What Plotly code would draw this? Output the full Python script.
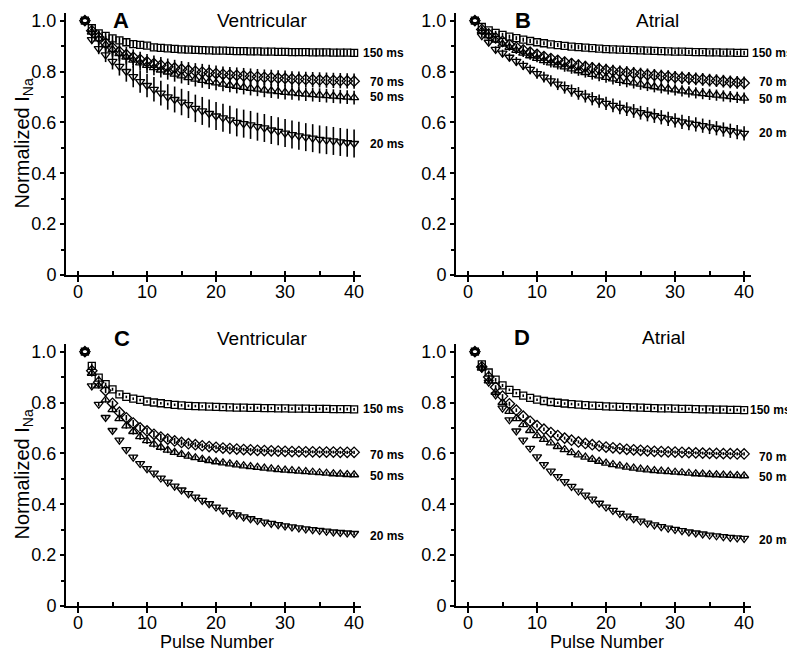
import plotly.graph_objects as go

pulse = list(range(1, 41))
series_names = ["150 ms", "70 ms", "50 ms", "20 ms"]
panel_letters = ["A", "B", "C", "D"]
panel_titles = ["Ventricular", "Atrial", "Ventricular", "Atrial"]
x_tick_vals = [0, 10, 20, 30, 40]
y_tick_vals = [0, 0.2, 0.4, 0.6, 0.8, 1.0]
y_tick_text = ["0", "0.2", "0.4", "0.6", "0.8", "1.0"]

# ---- Panel A (Ventricular, top) ----
A_150 = [1.000, 0.970, 0.950, 0.940, 0.930, 0.922, 0.915, 0.908, 0.905, 0.902,
         0.895, 0.893, 0.891, 0.889, 0.887, 0.886, 0.885, 0.884, 0.883, 0.882,
         0.882, 0.881, 0.880, 0.880, 0.879, 0.879, 0.878, 0.878, 0.877, 0.877,
         0.876, 0.876, 0.876, 0.875, 0.875, 0.875, 0.874, 0.874, 0.874, 0.873]
A_70 = [1.000, 0.960, 0.935, 0.912, 0.893, 0.878, 0.866, 0.856, 0.847, 0.838,
        0.831, 0.825, 0.819, 0.814, 0.809, 0.805, 0.801, 0.798, 0.795, 0.792,
        0.789, 0.787, 0.785, 0.783, 0.781, 0.779, 0.777, 0.776, 0.774, 0.773,
        0.771, 0.770, 0.769, 0.768, 0.767, 0.766, 0.765, 0.764, 0.763, 0.762]
A_50 = [1.000, 0.955, 0.928, 0.905, 0.886, 0.870, 0.857, 0.845, 0.834, 0.824,
        0.815, 0.806, 0.798, 0.790, 0.783, 0.776, 0.770, 0.765, 0.760, 0.755,
        0.750, 0.746, 0.742, 0.738, 0.734, 0.731, 0.727, 0.724, 0.721, 0.718,
        0.716, 0.713, 0.711, 0.709, 0.707, 0.705, 0.703, 0.701, 0.699, 0.697]
A_20 = [1.000, 0.925, 0.890, 0.865, 0.840, 0.820, 0.800, 0.780, 0.760, 0.745,
        0.730, 0.715, 0.700, 0.690, 0.680, 0.670, 0.655, 0.645, 0.635, 0.625,
        0.618, 0.610, 0.600, 0.595, 0.590, 0.583, 0.578, 0.570, 0.565, 0.558,
        0.552, 0.547, 0.542, 0.538, 0.533, 0.530, 0.527, 0.523, 0.520, 0.517]
A_150_err = [0.000, 0.010, 0.012, 0.012, 0.013, 0.013, 0.013, 0.012, 0.012, 0.012,
             0.012, 0.012, 0.012, 0.012, 0.012, 0.012, 0.012, 0.012, 0.012, 0.012,
             0.012, 0.012, 0.012, 0.012, 0.012, 0.012, 0.012, 0.012, 0.012, 0.012,
             0.012, 0.012, 0.012, 0.012, 0.012, 0.012, 0.012, 0.012, 0.012, 0.012]
A_70_err = [0.000, 0.020, 0.025, 0.028, 0.030, 0.030, 0.031, 0.031, 0.031, 0.031,
            0.032, 0.032, 0.032, 0.032, 0.032, 0.032, 0.032, 0.032, 0.032, 0.032,
            0.031, 0.031, 0.031, 0.031, 0.031, 0.031, 0.031, 0.031, 0.031, 0.031,
            0.030, 0.030, 0.030, 0.030, 0.030, 0.030, 0.030, 0.030, 0.030, 0.030]
A_50_err = [0.000, 0.020, 0.024, 0.027, 0.028, 0.029, 0.029, 0.030, 0.030, 0.030,
            0.030, 0.030, 0.030, 0.030, 0.030, 0.029, 0.029, 0.029, 0.029, 0.029,
            0.028, 0.028, 0.028, 0.028, 0.028, 0.028, 0.028, 0.028, 0.028, 0.028,
            0.027, 0.027, 0.027, 0.027, 0.027, 0.027, 0.027, 0.027, 0.027, 0.027]
A_20_err = [0.000, 0.015, 0.022, 0.028, 0.032, 0.036, 0.040, 0.042, 0.044, 0.046,
            0.048, 0.049, 0.050, 0.051, 0.052, 0.053, 0.054, 0.055, 0.055, 0.055,
            0.055, 0.055, 0.055, 0.055, 0.055, 0.055, 0.055, 0.055, 0.055, 0.055,
            0.055, 0.055, 0.055, 0.055, 0.055, 0.055, 0.055, 0.055, 0.055, 0.055]

# ---- Panel B (Atrial, top) ----
B_150 = [1.000, 0.975, 0.962, 0.952, 0.944, 0.937, 0.931, 0.925, 0.920, 0.915,
         0.911, 0.907, 0.904, 0.901, 0.898, 0.896, 0.894, 0.892, 0.890, 0.888,
         0.887, 0.886, 0.885, 0.884, 0.883, 0.882, 0.881, 0.880, 0.879, 0.878,
         0.878, 0.877, 0.876, 0.876, 0.875, 0.875, 0.874, 0.874, 0.873, 0.873]
B_70 = [1.000, 0.965, 0.947, 0.932, 0.918, 0.906, 0.895, 0.885, 0.876, 0.867,
        0.859, 0.851, 0.844, 0.837, 0.831, 0.825, 0.819, 0.814, 0.810, 0.806,
        0.802, 0.799, 0.796, 0.793, 0.790, 0.787, 0.785, 0.782, 0.780, 0.777,
        0.775, 0.773, 0.771, 0.769, 0.766, 0.764, 0.762, 0.759, 0.757, 0.755]
B_50 = [1.000, 0.960, 0.940, 0.923, 0.908, 0.895, 0.883, 0.872, 0.862, 0.852,
        0.843, 0.834, 0.826, 0.818, 0.810, 0.803, 0.796, 0.789, 0.783, 0.777,
        0.771, 0.765, 0.760, 0.755, 0.750, 0.745, 0.740, 0.736, 0.732, 0.728,
        0.724, 0.720, 0.716, 0.713, 0.710, 0.707, 0.704, 0.701, 0.698, 0.695]
B_20 = [1.000, 0.941, 0.915, 0.887, 0.872, 0.856, 0.840, 0.824, 0.808, 0.792,
        0.778, 0.763, 0.750, 0.737, 0.725, 0.714, 0.703, 0.693, 0.684, 0.675,
        0.667, 0.659, 0.652, 0.645, 0.638, 0.632, 0.626, 0.620, 0.614, 0.608,
        0.602, 0.597, 0.592, 0.587, 0.582, 0.577, 0.572, 0.567, 0.562, 0.557]
B_150_err = [0.000, 0.006, 0.007, 0.008, 0.008, 0.008, 0.008, 0.008, 0.008, 0.008,
             0.008, 0.008, 0.008, 0.008, 0.008, 0.009, 0.009, 0.009, 0.009, 0.009,
             0.009, 0.009, 0.009, 0.009, 0.009, 0.009, 0.009, 0.009, 0.009, 0.009,
             0.009, 0.009, 0.009, 0.009, 0.009, 0.009, 0.009, 0.009, 0.009, 0.009]
B_70_err = [0.000, 0.008, 0.010, 0.011, 0.012, 0.013, 0.014, 0.015, 0.016, 0.017,
            0.018, 0.019, 0.020, 0.021, 0.022, 0.022, 0.023, 0.023, 0.024, 0.024,
            0.025, 0.025, 0.025, 0.025, 0.025, 0.025, 0.025, 0.025, 0.025, 0.025,
            0.025, 0.025, 0.025, 0.025, 0.025, 0.025, 0.025, 0.025, 0.025, 0.025]
B_50_err = [0.000, 0.008, 0.010, 0.011, 0.012, 0.013, 0.014, 0.015, 0.016, 0.016,
            0.017, 0.018, 0.018, 0.019, 0.019, 0.020, 0.020, 0.021, 0.021, 0.021,
            0.022, 0.022, 0.022, 0.022, 0.022, 0.022, 0.022, 0.022, 0.022, 0.022,
            0.022, 0.022, 0.022, 0.022, 0.022, 0.022, 0.022, 0.022, 0.022, 0.022]
B_20_err = [0.000, 0.008, 0.010, 0.012, 0.014, 0.016, 0.017, 0.018, 0.019, 0.020,
            0.021, 0.022, 0.023, 0.024, 0.024, 0.025, 0.025, 0.026, 0.026, 0.026,
            0.027, 0.027, 0.027, 0.027, 0.027, 0.028, 0.028, 0.028, 0.028, 0.028,
            0.028, 0.028, 0.028, 0.028, 0.028, 0.028, 0.028, 0.028, 0.028, 0.028]

# ---- Panel C (Ventricular, bottom) ----
C_150 = [1.000, 0.944, 0.898, 0.872, 0.852, 0.832, 0.822, 0.815, 0.810, 0.804,
         0.800, 0.797, 0.794, 0.791, 0.789, 0.787, 0.786, 0.785, 0.784, 0.783,
         0.782, 0.781, 0.780, 0.780, 0.779, 0.779, 0.778, 0.778, 0.777, 0.777,
         0.776, 0.776, 0.776, 0.775, 0.775, 0.775, 0.774, 0.774, 0.774, 0.773]
C_70 = [1.000, 0.925, 0.880, 0.847, 0.797, 0.762, 0.740, 0.719, 0.700, 0.688,
        0.675, 0.664, 0.656, 0.649, 0.643, 0.638, 0.634, 0.630, 0.627, 0.624,
        0.621, 0.619, 0.617, 0.615, 0.614, 0.612, 0.611, 0.610, 0.609, 0.608,
        0.607, 0.607, 0.606, 0.606, 0.605, 0.605, 0.605, 0.604, 0.604, 0.604]
C_50 = [1.000, 0.915, 0.865, 0.810, 0.772, 0.737, 0.708, 0.686, 0.666, 0.650,
        0.636, 0.624, 0.613, 0.604, 0.596, 0.589, 0.583, 0.577, 0.572, 0.567,
        0.563, 0.559, 0.555, 0.551, 0.548, 0.545, 0.542, 0.539, 0.536, 0.534,
        0.532, 0.530, 0.528, 0.526, 0.524, 0.522, 0.520, 0.519, 0.517, 0.516]
C_20 = [1.000, 0.865, 0.793, 0.741, 0.690, 0.652, 0.615, 0.585, 0.560, 0.540,
        0.522, 0.503, 0.487, 0.471, 0.456, 0.442, 0.428, 0.415, 0.402, 0.389,
        0.377, 0.367, 0.358, 0.350, 0.343, 0.336, 0.330, 0.325, 0.320, 0.315,
        0.311, 0.307, 0.303, 0.300, 0.297, 0.294, 0.291, 0.289, 0.287, 0.285]
C_150_err = [0.000, 0.010, 0.008, 0.006, 0.006, 0.005, 0.005, 0.005, 0.005, 0.005,
             0.005, 0.005, 0.005, 0.005, 0.005, 0.005, 0.005, 0.005, 0.005, 0.005,
             0.005, 0.005, 0.005, 0.005, 0.005, 0.005, 0.005, 0.005, 0.005, 0.005,
             0.005, 0.005, 0.005, 0.005, 0.005, 0.005, 0.005, 0.005, 0.005, 0.005]
C_70_err = [0.000, 0.012, 0.010, 0.010, 0.010, 0.010, 0.011, 0.012, 0.012, 0.013,
            0.013, 0.013, 0.012, 0.012, 0.011, 0.010, 0.010, 0.009, 0.009, 0.008,
            0.008, 0.008, 0.007, 0.007, 0.007, 0.007, 0.007, 0.006, 0.006, 0.006,
            0.006, 0.006, 0.006, 0.006, 0.006, 0.006, 0.006, 0.006, 0.006, 0.006]
C_50_err = [0.000, 0.012, 0.010, 0.010, 0.010, 0.010, 0.011, 0.012, 0.012, 0.013,
            0.013, 0.013, 0.012, 0.011, 0.010, 0.010, 0.009, 0.009, 0.008, 0.008,
            0.008, 0.007, 0.007, 0.007, 0.007, 0.006, 0.006, 0.006, 0.006, 0.006,
            0.006, 0.006, 0.006, 0.006, 0.006, 0.006, 0.006, 0.006, 0.006, 0.006]
C_20_err = [0.000, 0.010, 0.008, 0.008, 0.008, 0.008, 0.008, 0.008, 0.008, 0.008,
            0.008, 0.008, 0.008, 0.008, 0.008, 0.008, 0.008, 0.008, 0.008, 0.008,
            0.008, 0.008, 0.008, 0.008, 0.008, 0.008, 0.008, 0.008, 0.008, 0.008,
            0.007, 0.007, 0.007, 0.007, 0.007, 0.007, 0.007, 0.007, 0.007, 0.007]

# ---- Panel D (Atrial, bottom) ----
D_150 = [1.000, 0.950, 0.918, 0.890, 0.867, 0.850, 0.837, 0.827, 0.818, 0.811,
         0.806, 0.802, 0.799, 0.796, 0.794, 0.792, 0.790, 0.788, 0.787, 0.785,
         0.784, 0.783, 0.782, 0.781, 0.780, 0.779, 0.778, 0.777, 0.777, 0.776,
         0.775, 0.775, 0.774, 0.773, 0.773, 0.772, 0.772, 0.771, 0.771, 0.770]
D_70 = [1.000, 0.940, 0.900, 0.860, 0.825, 0.795, 0.770, 0.746, 0.726, 0.709,
        0.695, 0.682, 0.670, 0.660, 0.652, 0.645, 0.639, 0.634, 0.629, 0.625,
        0.622, 0.619, 0.616, 0.614, 0.612, 0.610, 0.608, 0.607, 0.606, 0.605,
        0.604, 0.603, 0.602, 0.601, 0.600, 0.600, 0.599, 0.599, 0.598, 0.598]
D_50 = [1.000, 0.935, 0.885, 0.840, 0.800, 0.765, 0.737, 0.713, 0.690, 0.670,
        0.655, 0.641, 0.627, 0.615, 0.603, 0.594, 0.585, 0.577, 0.569, 0.562,
        0.556, 0.551, 0.546, 0.542, 0.538, 0.535, 0.532, 0.530, 0.528, 0.526,
        0.524, 0.522, 0.520, 0.519, 0.517, 0.516, 0.515, 0.514, 0.513, 0.512]
D_20 = [1.000, 0.935, 0.880, 0.830, 0.778, 0.732, 0.688, 0.652, 0.620, 0.586,
        0.556, 0.530, 0.509, 0.489, 0.470, 0.452, 0.436, 0.420, 0.404, 0.389,
        0.376, 0.364, 0.353, 0.343, 0.334, 0.326, 0.319, 0.312, 0.306, 0.301,
        0.296, 0.291, 0.287, 0.283, 0.279, 0.276, 0.273, 0.270, 0.268, 0.266]
D_150_err = [0.000, 0.010, 0.008, 0.006, 0.006, 0.005, 0.005, 0.005, 0.005, 0.005,
             0.005, 0.005, 0.005, 0.005, 0.005, 0.005, 0.005, 0.005, 0.005, 0.005,
             0.005, 0.005, 0.005, 0.005, 0.005, 0.005, 0.005, 0.005, 0.005, 0.005,
             0.005, 0.005, 0.005, 0.005, 0.005, 0.005, 0.005, 0.005, 0.005, 0.005]
D_70_err = [0.000, 0.010, 0.009, 0.008, 0.008, 0.008, 0.007, 0.007, 0.007, 0.007,
            0.007, 0.006, 0.006, 0.006, 0.006, 0.006, 0.006, 0.006, 0.006, 0.006,
            0.006, 0.006, 0.006, 0.006, 0.006, 0.006, 0.006, 0.006, 0.006, 0.006,
            0.006, 0.006, 0.006, 0.006, 0.006, 0.006, 0.006, 0.006, 0.006, 0.006]
D_50_err = [0.000, 0.010, 0.009, 0.008, 0.008, 0.008, 0.007, 0.007, 0.007, 0.007,
            0.007, 0.006, 0.006, 0.006, 0.006, 0.006, 0.006, 0.006, 0.006, 0.006,
            0.006, 0.006, 0.006, 0.006, 0.006, 0.006, 0.006, 0.006, 0.006, 0.006,
            0.006, 0.006, 0.006, 0.006, 0.006, 0.006, 0.006, 0.006, 0.006, 0.006]
D_20_err = [0.000, 0.010, 0.008, 0.007, 0.007, 0.007, 0.007, 0.007, 0.007, 0.007,
            0.006, 0.006, 0.006, 0.006, 0.006, 0.006, 0.006, 0.006, 0.006, 0.006,
            0.006, 0.006, 0.006, 0.006, 0.006, 0.006, 0.006, 0.006, 0.006, 0.006,
            0.006, 0.006, 0.006, 0.006, 0.006, 0.006, 0.006, 0.006, 0.006, 0.006]

# value at which each end-of-series label sits, per panel
label_y = {
    "A": [0.873, 0.760, 0.700, 0.514],
    "B": [0.873, 0.760, 0.690, 0.557],
    "C": [0.774, 0.593, 0.510, 0.277],
    "D": [0.770, 0.587, 0.508, 0.259],
}

panels = {
    "A": ([A_150, A_70, A_50, A_20], [A_150_err, A_70_err, A_50_err, A_20_err]),
    "B": ([B_150, B_70, B_50, B_20], [B_150_err, B_70_err, B_50_err, B_20_err]),
    "C": ([C_150, C_70, C_50, C_20], [C_150_err, C_70_err, C_50_err, C_20_err]),
    "D": ([D_150, D_70, D_50, D_20], [D_150_err, D_70_err, D_50_err, D_20_err]),
}

W, H = 795, 652
OFF = 8  # page body margin: the figure is drawn 8 px right/down in the window
symbols = ["square-open", "diamond-open", "triangle-up-open", "triangle-down-open"]
sizes = [7, 8, 8, 8]

# screen-pixel geometry of each plot area: (left, right, top, bottom)
geom = {
    "A": (66, 361, 13, 275),
    "B": (456, 751, 13, 275),
    "C": (66, 361, 344, 606),
    "D": (456, 751, 344, 606),
}
# screen x where end labels start: (150 ms, others)
label_x = {"A": (361, 368), "B": (750, 757), "C": (361, 368), "D": (748, 757)}
title_x = {"A": (121, 262), "B": (523, 657), "C": (122, 262), "D": (522, 663)}
title_y = {"A": 20, "B": 20, "C": 338, "D": 337}


def px(x):
    return (x - OFF) / W


def py(y):
    return 1 - (y - OFF) / H


fig = go.Figure()
layout_axes = {}
annotations = []
font_main = "Liberation Sans, Arial, sans-serif"

for i, key in enumerate(["A", "B", "C", "D"]):
    n = i + 1
    xa = "x" if n == 1 else f"x{n}"
    ya = "y" if n == 1 else f"y{n}"
    vals, errs = panels[key]
    for s in range(4):
        fig.add_trace(go.Scatter(
            x=pulse, y=vals[s], xaxis=xa, yaxis=ya, mode="markers",
            marker=dict(symbol=symbols[s], size=sizes[s], color="black",
                        line=dict(color="black", width=1.3)),
            error_y=dict(type="data", array=errs[s], visible=True,
                         color="black", thickness=1.6, width=0),
            showlegend=False, cliponaxis=False, name=series_names[s]))
    l, r, t, b = geom[key]
    xdom = [px(l), px(r)]
    ydom = [py(b), py(t)]
    layout_axes["xaxis" if n == 1 else f"xaxis{n}"] = dict(
        domain=xdom, anchor=ya, range=[-1.74, 41.0],
        tickvals=x_tick_vals, ticks="outside", ticklen=5, tickwidth=1.5,
        tickcolor="black", showline=True, linecolor="black", linewidth=2,
        showgrid=False, zeroline=False, ticklabelstandoff=-6,
        tickfont=dict(family=font_main, size=18, color="black"),
        minor=dict(dtick=5, tick0=0, ticks="inside", ticklen=4,
                   tickwidth=1.5, tickcolor="black", showgrid=False))
    layout_axes["yaxis" if n == 1 else f"yaxis{n}"] = dict(
        domain=ydom, anchor=xa, range=[0, 1.03],
        tickvals=y_tick_vals, ticktext=y_tick_text, ticks="outside",
        ticklen=4, tickwidth=1.5, tickcolor="black", showline=True,
        linecolor="black", linewidth=2, showgrid=False, zeroline=False,
        tickfont=dict(family=font_main, size=18, color="black"),
        minor=dict(dtick=0.1, tick0=0, ticks="outside", ticklen=3,
                   tickwidth=1.5, tickcolor="black", showgrid=False))

    # panel letter and title
    annotations.append(dict(text=f"<b>{panel_letters[i]}</b>", xref="paper", yref="paper",
                            x=px(title_x[key][0]), y=py(title_y[key]), showarrow=False,
                            xanchor="center", yanchor="middle",
                            font=dict(family=font_main, size=22, color="black")))
    annotations.append(dict(text=panel_titles[i], xref="paper", yref="paper",
                            x=px(title_x[key][1]), y=py(title_y[key]),
                            showarrow=False, xanchor="center", yanchor="middle",
                            font=dict(family=font_main, size=19, color="black")))
    # end-of-series labels
    for s in range(4):
        lx = label_x[key][0] if s == 0 else label_x[key][1]
        annotations.append(dict(text=f"<b>{series_names[s]}</b>", xref="paper", yref=ya,
                                x=px(lx), y=label_y[key][s],
                                showarrow=False, xanchor="left", yanchor="middle",
                                font=dict(family=font_main, size=12, color="black")))

# y-axis titles (left column)
for (t, b) in [(13, 275), (344, 606)]:
    annotations.append(dict(text="Normalized I<sub>Na</sub>", xref="paper", yref="paper",
                            x=0, y=py((t + b) / 2), showarrow=False,
                            textangle=-90, xanchor="left", yanchor="middle",
                            font=dict(family=font_main, size=20, color="black")))
# x-axis titles (bottom row)
for (l, r) in [(66, 361), (456, 751)]:
    annotations.append(dict(text="Pulse Number", xref="paper", yref="paper",
                            x=px((l + r) / 2 + 3), y=py(642), showarrow=False,
                            xanchor="center", yanchor="middle",
                            font=dict(family=font_main, size=18, color="black")))

fig.update_layout(width=W, height=H, margin=dict(l=0, r=0, t=0, b=0, autoexpand=False),
                  paper_bgcolor="white", plot_bgcolor="white",
                  annotations=annotations, **layout_axes)

fig.write_html("out.html")
